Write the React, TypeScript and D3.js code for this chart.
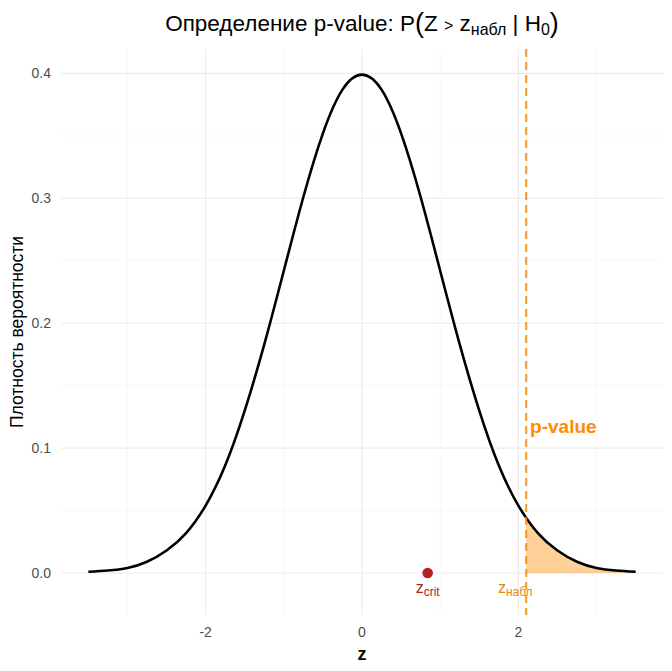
import React, { useRef, useEffect } from "react";
import * as d3 from "d3";

// standard normal density, step 0.25
const zValues = [
    -3.5, -3.25, -3, -2.75, -2.5, -2.25, -2, -1.75, -1.5, -1.25, -1, -0.75, -0.5, -0.25, 0,
    0.25, 0.5, 0.75, 1, 1.25, 1.5, 1.75, 2, 2.25, 2.5, 2.75, 3, 3.25, 3.5,
];
const densityValues = [
    0.001, 0.002, 0.004, 0.009, 0.018, 0.032, 0.054, 0.086, 0.13, 0.183, 0.242, 0.301, 0.352, 0.387, 0.399,
    0.387, 0.352, 0.301, 0.242, 0.183, 0.13, 0.086, 0.054, 0.032, 0.018, 0.009, 0.004, 0.002, 0.001,
];

// right tail beyond the observed statistic
const tailZ = [2.1, 2.25, 2.5, 2.75, 3, 3.25, 3.5];
const tailDensity = [0.044, 0.032, 0.018, 0.009, 0.004, 0.002, 0.001];

const zObserved = 2.1;
const zCrit = 0.84;
const pValueLabel = { z: 2.15, y: 0.118 };
const zObsLabelX = 1.96;

const xTicks = [-2, 0, 2];
const xMinor = [-3, -1, 1, 3];
const yTicks = [0, 0.1, 0.2, 0.3, 0.4];
const yMinor = [0.05, 0.15, 0.25, 0.35];

type Pt = { z: number; d: number };

export default function App() {
    const svgRef = useRef<SVGSVGElement | null>(null);

    useEffect(() => {
        if (!svgRef.current) return;
        const width = 672;
        const height = 671;
        const margin = { top: 49, right: 9, bottom: 56, left: 61 };
        const font = "'Liberation Sans', Arial, sans-serif";

        const svg = d3.select(svgRef.current);
        svg.selectAll("*").remove();

        const x = d3.scaleLinear().domain([-3.85, 3.85]).range([margin.left, width - margin.right]);
        const y = d3.scaleLinear().domain([-0.0336, 0.4195]).range([height - margin.bottom, margin.top]);

        const curve: Pt[] = zValues.map((z, i) => ({ z, d: densityValues[i] }));
        const tail: Pt[] = tailZ.map((z, i) => ({ z, d: tailDensity[i] }));

        const grid = svg.append("g");
        xMinor.forEach((v) =>
            grid.append("line").attr("x1", x(v)).attr("x2", x(v))
                .attr("y1", y.range()[1]).attr("y2", y.range()[0])
                .attr("stroke", "#f2f2f2").attr("stroke-width", 0.6));
        yMinor.forEach((v) =>
            grid.append("line").attr("y1", y(v)).attr("y2", y(v))
                .attr("x1", x.range()[0]).attr("x2", x.range()[1])
                .attr("stroke", "#f2f2f2").attr("stroke-width", 0.6));
        xTicks.forEach((v) =>
            grid.append("line").attr("x1", x(v)).attr("x2", x(v))
                .attr("y1", y.range()[1]).attr("y2", y.range()[0])
                .attr("stroke", "#ebebeb").attr("stroke-width", 1.1));
        yTicks.forEach((v) =>
            grid.append("line").attr("y1", y(v)).attr("y2", y(v))
                .attr("x1", x.range()[0]).attr("x2", x.range()[1])
                .attr("stroke", "#ebebeb").attr("stroke-width", 1.1));

        // shaded tail
        const area = d3.area<Pt>()
            .x((p) => x(p.z))
            .y0(y(0))
            .y1((p) => y(p.d))
            .curve(d3.curveNatural);
        svg.append("path").datum(tail)
            .attr("fill", "#ff8c00").attr("fill-opacity", 0.4)
            .attr("d", area);

        // density curve
        const line = d3.line<Pt>()
            .x((p) => x(p.z))
            .y((p) => y(p.d))
            .curve(d3.curveNatural);
        svg.append("path").datum(curve)
            .attr("fill", "none").attr("stroke", "#000")
            .attr("stroke-width", 2.6)
            .attr("d", line);

        // observed statistic
        svg.append("line")
            .attr("x1", x(zObserved)).attr("x2", x(zObserved))
            .attr("y1", y.range()[1]).attr("y2", y.range()[0])
            .attr("stroke", "#ff8c00").attr("stroke-opacity", 0.85)
            .attr("stroke-width", 2.2)
            .attr("stroke-dasharray", "8,5");

        svg.append("circle")
            .attr("cx", x(zCrit)).attr("cy", y(0)).attr("r", 5.3)
            .attr("fill", "#b22222");

        // annotations
        svg.append("text")
            .attr("x", x(pValueLabel.z)).attr("y", y(pValueLabel.y) + 7)
            .attr("font-family", font).attr("font-size", 19).attr("font-weight", "bold")
            .attr("fill", "#ff8c00").text("p-value");

        const crit = svg.append("text")
            .attr("x", x(zCrit)).attr("y", y(0) + 20)
            .attr("text-anchor", "middle")
            .attr("font-family", font).attr("font-size", 16).attr("fill", "#b22222");
        crit.append("tspan").text("z");
        crit.append("tspan").attr("font-size", 12).attr("dy", 3).text("crit");

        const obs = svg.append("text")
            .attr("x", x(zObsLabelX)).attr("y", y(0) + 20)
            .attr("text-anchor", "middle")
            .attr("font-family", font).attr("font-size", 16).attr("fill", "#e8870c");
        obs.append("tspan").text("z");
        obs.append("tspan").attr("font-size", 12).attr("dy", 3).text("набл");

        // axis tick labels
        xTicks.forEach((v) =>
            svg.append("text").attr("x", x(v)).attr("y", 637)
                .attr("text-anchor", "middle")
                .attr("font-family", font).attr("font-size", 14).attr("fill", "#4d4d4d")
                .text(String(v)));
        yTicks.forEach((v) =>
            svg.append("text").attr("x", 51).attr("y", y(v) + 5)
                .attr("text-anchor", "end")
                .attr("font-family", font).attr("font-size", 14).attr("fill", "#4d4d4d")
                .text(d3.format(".1f")(v)));

        // axis titles
        svg.append("text").attr("x", x(0)).attr("y", 660)
            .attr("text-anchor", "middle")
            .attr("font-family", font).attr("font-size", 18).attr("font-weight", "bold")
            .text("z");
        svg.append("text")
            .attr("transform", `translate(23,${(y.range()[0] + y.range()[1]) / 2}) rotate(-90)`)
            .attr("text-anchor", "middle")
            .attr("font-family", font).attr("font-size", 17.5)
            .text("Плотность вероятности");

        // title with math
        const title = svg.append("text")
            .attr("x", x(0)).attr("y", 31)
            .attr("text-anchor", "middle")
            .attr("font-family", font).attr("font-size", 22.5);
        title.append("tspan").text("Определение p-value: P");
        title.append("tspan").attr("font-size", 27).attr("dy", 1).text("(");
        title.append("tspan").attr("font-size", 22.5).attr("dy", -1).text("Z ");
        title.append("tspan").attr("font-size", 16).text(">");
        title.append("tspan").attr("font-size", 22.5).text(" z");
        title.append("tspan").attr("font-size", 16).attr("dy", 4).text("набл");
        title.append("tspan").attr("font-size", 22.5).attr("dy", -4).text(" | H");
        title.append("tspan").attr("font-size", 16).attr("dy", 4).text("0");
        title.append("tspan").attr("font-size", 27).attr("dy", -3).text(")");
    }, []);

    return (
        <svg
            ref={svgRef}
            width={672}
            height={671}
            style={{ position: "absolute", left: 0, top: 0, background: "#fff" }}
        ></svg>
    );
}
